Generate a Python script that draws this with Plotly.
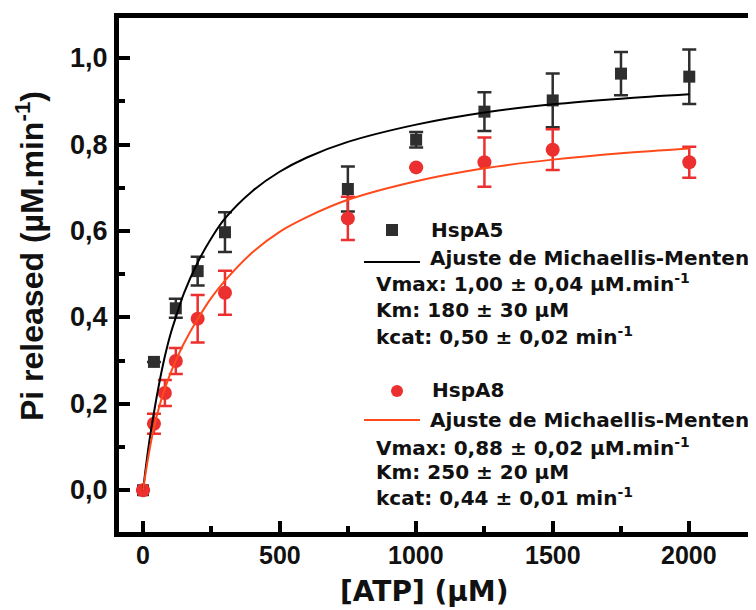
import plotly.graph_objects as go

# ---- data ----
atp_a5 = [0, 40, 120, 200, 300, 750, 1000, 1250, 1500, 1750, 2000]
pi_a5 = [0.0, 0.297, 0.421, 0.507, 0.597, 0.697, 0.811, 0.876, 0.902, 0.964, 0.957]
err_a5 = [0, 0, 0.022, 0.033, 0.046, 0.052, 0.018, 0.045, 0.062, 0.050, 0.063]

atp_a8 = [0, 40, 80, 120, 200, 300, 750, 1000, 1250, 1500, 2000]
pi_a8 = [0.0, 0.154, 0.225, 0.299, 0.397, 0.457, 0.629, 0.747, 0.759, 0.788, 0.759]
err_a8 = [0, 0.023, 0.030, 0.030, 0.055, 0.051, 0.050, 0, 0.057, 0.047, 0.036]

fit_x = [0, 20, 40, 60, 80, 100, 120, 150, 200, 250, 300, 400, 500, 600, 750,
         1000, 1250, 1500, 1750, 2000]
fit_a5 = [0.0, 0.10, 0.18, 0.25, 0.31, 0.36, 0.40, 0.456, 0.527, 0.583, 0.629,
          0.692, 0.737, 0.770, 0.806, 0.846, 0.874, 0.893, 0.906, 0.916]
fit_a8 = [0.0, 0.08, 0.145, 0.195, 0.235, 0.27, 0.30, 0.34, 0.396, 0.445, 0.485,
          0.55, 0.598, 0.632, 0.672, 0.715, 0.745, 0.765, 0.780, 0.791]

x_ticks = [0, 500, 1000, 1500, 2000]
x_tick_text = ["0", "500", "1000", "1500", "2000"]
y_ticks = [0.0, 0.2, 0.4, 0.6, 0.8, 1.0]
y_tick_text = ["0,0", "0,2", "0,4", "0,6", "0,8", "1,0"]

x_title = "[ATP] (µM)"
y_title = "Pi released (µM.min<sup>-1</sup>)"

legend_a5 = ["HspA5", "Ajuste de Michaellis-Menten",
             "Vmax: 1,00 ± 0,04 µM.min<sup>-1</sup>",
             "Km: 180 ± 30 µM",
             "kcat: 0,50 ± 0,02 min<sup>-1</sup>"]
legend_a8 = ["HspA8", "Ajuste de Michaellis-Menten",
             "Vmax: 0,88 ± 0,02 µM.min<sup>-1</sup>",
             "Km: 250 ± 20 µM",
             "kcat: 0,44 ± 0,01 min<sup>-1</sup>"]

# ---- colours ----
C_A5 = "#2e2e2e"
C_A8 = "#ec2f2f"
C_FIT5 = "#000000"
C_FIT8 = "#ff4a1c"
TXT = "#111111"

# the page body has an 8px margin: the figure is drawn 8px in from the window corner
OFF = 8
W, H = 756 - OFF, 610 - OFF
ML, MR, MT, MB = 119 - OFF, 5, 18 - OFF, 78
PW, PH = W - ML - MR, H - MT - MB


def px(x):  # window pixel -> paper x
    return (x - OFF - ML) / PW


def py(y):  # window pixel -> paper y
    return (H - MB - (y - OFF)) / PH


fig = go.Figure()

fig.add_trace(go.Scatter(
    x=atp_a5, y=pi_a5, mode="markers",
    marker=dict(symbol="square", size=12, color=C_A5),
    error_y=dict(type="data", array=err_a5, visible=True, color=C_A5,
                 thickness=2.5, width=7),
    showlegend=False))
fig.add_trace(go.Scatter(
    x=atp_a8, y=pi_a8, mode="markers",
    marker=dict(symbol="circle", size=14, color=C_A8),
    error_y=dict(type="data", array=err_a8, visible=True, color=C_A8,
                 thickness=2.5, width=7),
    showlegend=False))
fig.add_trace(go.Scatter(
    x=fit_x, y=fit_a5, mode="lines", line=dict(color=C_FIT5, width=2, shape="spline"),
    showlegend=False))
fig.add_trace(go.Scatter(
    x=fit_x, y=fit_a8, mode="lines", line=dict(color=C_FIT8, width=2, shape="spline"),
    showlegend=False))

LEG_FONT = dict(family="DejaVu Sans", size=20, color=TXT)
annotations = []
shapes = []

# HspA5 block
ys5 = [230, 258, 283, 310, 336]
xs5 = [429, 428, 374, 374, 374]
for txt, xx, yy in zip(legend_a5, xs5, ys5):
    annotations.append(dict(x=px(xx), y=py(yy), xref="paper", yref="paper",
                            text="<b>" + txt + "</b>", showarrow=False,
                            xanchor="left", yanchor="middle", font=LEG_FONT))
shapes.append(dict(type="rect", xref="paper", yref="paper",
                   x0=px(386), x1=px(398), y0=py(236), y1=py(224),
                   fillcolor=C_A5, line=dict(width=0)))
shapes.append(dict(type="line", xref="paper", yref="paper",
                   x0=px(364), x1=px(420), y0=py(262), y1=py(262),
                   line=dict(color=C_FIT5, width=2)))

# HspA8 block
ys8 = [390, 420, 447, 472, 497]
xs8 = [430, 428, 374, 374, 374]
for txt, xx, yy in zip(legend_a8, xs8, ys8):
    annotations.append(dict(x=px(xx), y=py(yy), xref="paper", yref="paper",
                            text="<b>" + txt + "</b>", showarrow=False,
                            xanchor="left", yanchor="middle", font=LEG_FONT))
shapes.append(dict(type="circle", xref="paper", yref="paper",
                   x0=px(391), x1=px(403), y0=py(397), y1=py(385),
                   fillcolor=C_A8, line=dict(width=0)))
shapes.append(dict(type="line", xref="paper", yref="paper",
                   x0=px(364), x1=px(420), y0=py(420), y1=py(420),
                   line=dict(color=C_FIT8, width=2)))

# tick labels (placed on the axes' own ticks)
for v, t in zip(x_ticks, x_tick_text):
    annotations.append(dict(x=v, xref="x", y=py(555), yref="paper",
                            text="<b>" + t + "</b>", showarrow=False,
                            xanchor="center", yanchor="middle",
                            font=dict(family="Liberation Sans", size=25, color=TXT)))
for v, t in zip(y_ticks, y_tick_text):
    annotations.append(dict(x=px(110), xref="paper", y=v, yref="y",
                            text="<b>" + t + "</b>", showarrow=False,
                            xanchor="right", yanchor="middle",
                            font=dict(family="Liberation Sans", size=27, color=TXT)))

# axis titles
annotations.append(dict(x=px(424.5), y=py(591), xref="paper", yref="paper",
                        text="<b>" + x_title + "</b>", showarrow=False,
                        xanchor="center", yanchor="middle",
                        font=dict(family="DejaVu Sans", size=28, color=TXT)))
annotations.append(dict(x=px(30), y=py(256), xref="paper", yref="paper",
                        text="<b>" + y_title + "</b>", showarrow=False, textangle=-90,
                        xanchor="center", yanchor="middle",
                        font=dict(family="Liberation Sans", size=32, color=TXT)))

fig.update_layout(
    width=W, height=H,
    margin=dict(l=ML, r=MR, t=MT, b=MB, autoexpand=False),
    paper_bgcolor="white", plot_bgcolor="white",
    annotations=annotations, shapes=shapes,
    font=dict(family="Liberation Sans", color=TXT),
)

fig.update_xaxes(
    automargin=False,
    range=[-88, 2226], tickvals=x_ticks, showticklabels=False,
    showgrid=False, zeroline=False,
    showline=True, linewidth=5, linecolor="black", mirror=True,
    ticks="inside", ticklen=11, tickwidth=4, tickcolor="black",
    minor=dict(dtick=250, tick0=0, ticks="inside", ticklen=6, tickwidth=4,
               tickcolor="black", showgrid=False),
)
fig.update_yaxes(
    automargin=False,
    range=[-0.0966, 1.0927], tickvals=y_ticks, showticklabels=False,
    showgrid=False, zeroline=False,
    showline=True, linewidth=5, linecolor="black", mirror=True,
    ticks="inside", ticklen=11, tickwidth=4, tickcolor="black",
    minor=dict(dtick=0.1, tick0=0, ticks="inside", ticklen=6, tickwidth=4,
               tickcolor="black", showgrid=False),
)

fig.write_html("out.html")
